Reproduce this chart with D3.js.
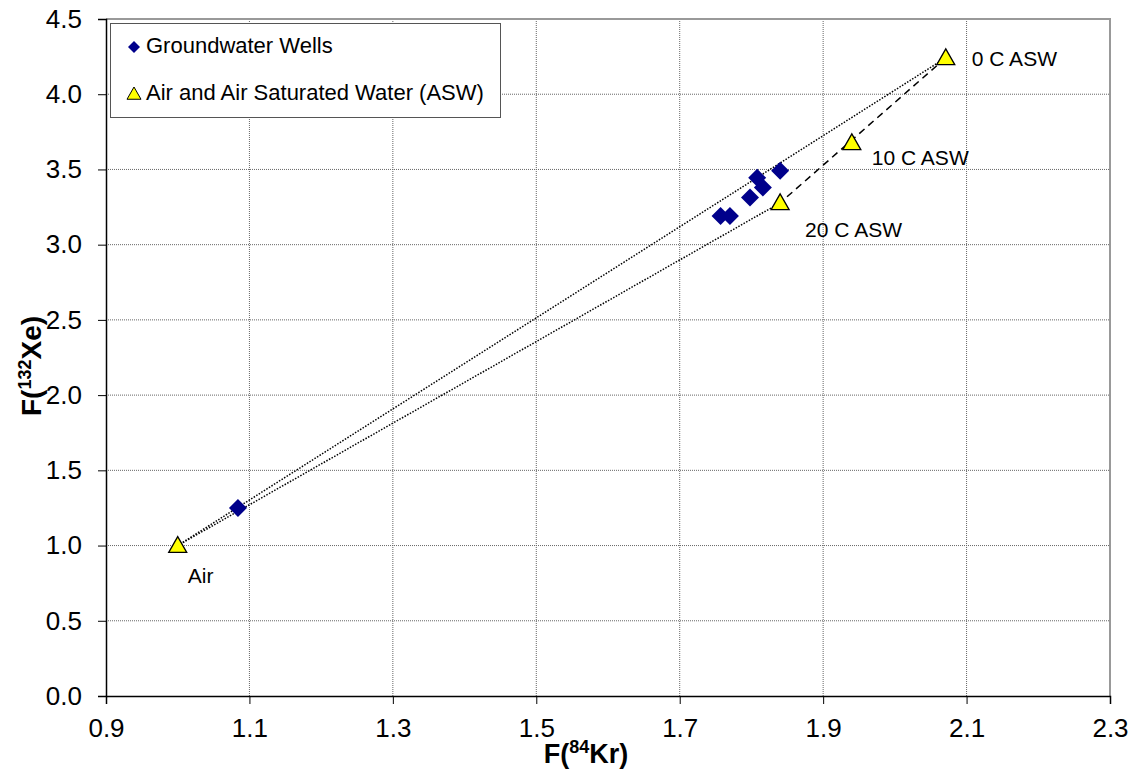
<!DOCTYPE html>
<html><head><meta charset="utf-8">
<script src="https://cdn.jsdelivr.net/npm/d3@7"></script>
<style>body{margin:0;background:#fff}svg{display:block;font-family:"Liberation Sans",Arial,sans-serif}</style>
</head><body><svg id="c" width="1136" height="774"></svg>
<script>
const wellsX = [1.084, 1.757, 1.770, 1.798, 1.808, 1.816, 1.840];
const wellsY = [1.250, 3.191, 3.191, 3.313, 3.444, 3.380, 3.491];
const aswNames = ["Air", "0 C ASW", "10 C ASW", "20 C ASW"];
const aswX = [1.00, 2.071, 1.940, 1.840];
const aswY = [1.00, 4.242, 3.677, 3.278];
const xTicks = [0.9, 1.1, 1.3, 1.5, 1.7, 1.9, 2.1, 2.3];
const yTicks = [0.0, 0.5, 1.0, 1.5, 2.0, 2.5, 3.0, 3.5, 4.0, 4.5];
const legendLabels = ["Groundwater Wells", "Air and Air Saturated Water (ASW)"];
const dottedPairs = [[0, 1], [0, 3]];
const dashedPairs = [[1, 3]];

const svg = d3.select("#c");
const L = 106, R = 1110, T = 19, B = 696;
const x = d3.scaleLinear().domain([0.9, 2.3]).range([L, R]);
const y = d3.scaleLinear().domain([0, 4.5]).range([B, T]);

// grid
const g = svg.append("g");
g.selectAll(".vg").data(xTicks.slice(1, -1)).join("line")
  .attr("x1", d => x(d)).attr("x2", d => x(d)).attr("y1", T).attr("y2", B)
  .attr("stroke", "#666").attr("stroke-width", 1).attr("stroke-dasharray", "1,1");
g.selectAll(".hg").data(yTicks.slice(1, -1)).join("line")
  .attr("y1", d => y(d)).attr("y2", d => y(d)).attr("x1", L).attr("x2", R)
  .attr("stroke", "#666").attr("stroke-width", 1).attr("stroke-dasharray", "1,1");
// border top/right
svg.append("path").attr("d", `M${L},${T}H${R}V${B}`).attr("fill", "none")
  .attr("stroke", "#999").attr("stroke-width", 2);

// axes
const xa = svg.append("g").attr("transform", `translate(0,${B})`)
  .call(d3.axisBottom(x).tickValues(xTicks).tickFormat(d3.format(".1f")).tickSizeOuter(0).tickSize(8).tickPadding(15));
const ya = svg.append("g").attr("transform", `translate(${L},0)`)
  .call(d3.axisLeft(y).tickValues(yTicks).tickFormat(d3.format(".1f")).tickSizeOuter(0).tickSize(8).tickPadding(16));
[xa, ya].forEach(a => {
  a.select(".domain").attr("stroke", "#000").attr("stroke-width", 1.5);
  a.selectAll(".tick line").attr("stroke", "#000");
  a.selectAll(".tick text").attr("font-size", 26).attr("fill", "#000")
    .attr("font-family", "Liberation Sans, Arial, sans-serif");
});

// mixing lines
dottedPairs.forEach(([a, b]) => {
  svg.append("line").attr("x1", x(aswX[a])).attr("y1", y(aswY[a]))
    .attr("x2", x(aswX[b])).attr("y2", y(aswY[b]))
    .attr("stroke", "#000").attr("stroke-width", 1.5).attr("stroke-dasharray", "1.5,1.5");
});
dashedPairs.forEach(([a, b]) => {
  svg.append("line").attr("x1", x(aswX[a])).attr("y1", y(aswY[a]))
    .attr("x2", x(aswX[b])).attr("y2", y(aswY[b]))
    .attr("stroke", "#000").attr("stroke-width", 1.5).attr("stroke-dasharray", "7,5");
});

const diamond = s => `M0,${-s}L${s},0L0,${s}L${-s},0Z`;
const tri = s => `M0,${-s}L${s},${s * 0.75}L${-s},${s * 0.75}Z`;

svg.append("g").selectAll("path").data(wellsX.map((d, i) => [d, wellsY[i]])).join("path")
  .attr("transform", d => `translate(${x(d[0])},${y(d[1])})`)
  .attr("d", diamond(9)).attr("fill", "#00008B");

svg.append("g").selectAll("path").data(aswX.map((d, i) => [d, aswY[i]])).join("path")
  .attr("transform", d => `translate(${x(d[0])},${y(d[1])})`)
  .attr("d", tri(9)).attr("fill", "#FFFF00").attr("stroke", "#000").attr("stroke-width", 1.3);

// point labels
const lblOff = [[10, 37], [26, 8], [20, 22], [25, 34]];
aswNames.forEach((n, i) => {
  svg.append("text").attr("x", x(aswX[i]) + lblOff[i][0]).attr("y", y(aswY[i]) + lblOff[i][1])
    .attr("font-size", 21).attr("fill", "#000").text(n);
});

// legend
const lg = svg.append("g");
lg.append("rect").attr("x", 110.5).attr("y", 23.5).attr("width", 390).attr("height", 94)
  .attr("fill", "#fff").attr("stroke", "#555").attr("stroke-width", 1);
lg.append("path").attr("transform", "translate(134,47)").attr("d", diamond(6)).attr("fill", "#00008B");
lg.append("path").attr("transform", "translate(134,94)").attr("d", tri(7)).attr("fill", "#FFFF00").attr("stroke", "#000").attr("stroke-width", 1);
legendLabels.forEach((t, i) => {
  lg.append("text").attr("x", 146).attr("y", 53 + i * 47).attr("font-size", 22).attr("fill", "#000").text(t);
});

// axis titles
const xt = svg.append("text").attr("x", 586).attr("y", 763).attr("text-anchor", "middle")
  .attr("font-size", 27).attr("font-weight", "bold");
xt.append("tspan").text("F(");
xt.append("tspan").attr("font-size", 18).attr("dy", -10).text("84");
xt.append("tspan").attr("dy", 10).text("Kr)");

const yt = svg.append("text").attr("transform", `translate(41,366) rotate(-90)`).attr("text-anchor", "middle")
  .attr("font-size", 28).attr("font-weight", "bold");
yt.append("tspan").text("F(");
yt.append("tspan").attr("font-size", 18).attr("dy", -10).text("132");
yt.append("tspan").attr("dy", 10).text("Xe)");
</script></body></html>
